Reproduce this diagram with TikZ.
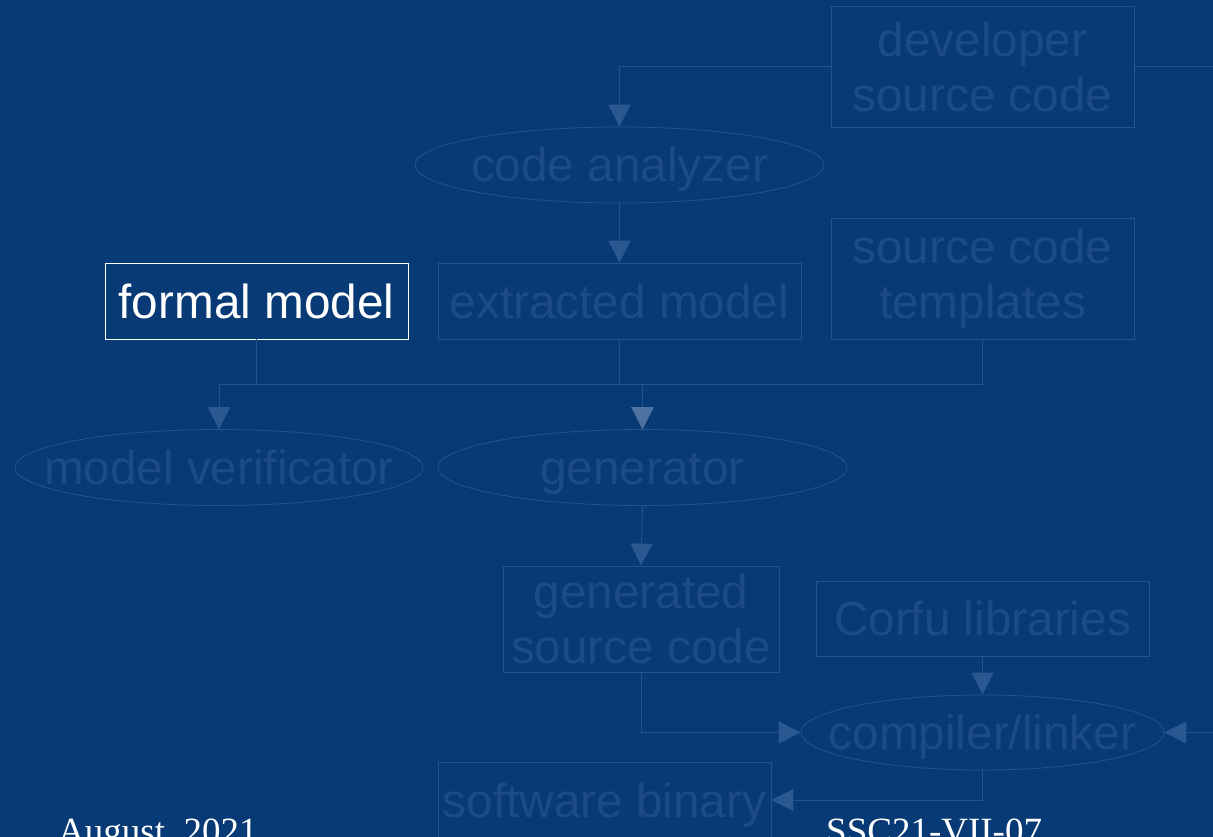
\documentclass[tikz,border=0pt]{standalone}
\usepackage{fontspec}
\setmainfont{Liberation Sans}
\newfontfamily\footfont{Liberation Serif}
\usetikzlibrary{shapes.geometric,arrows.meta}
\definecolor{bgc}{HTML}{083A75}
\definecolor{fadetxt}{HTML}{1D4C85}
\definecolor{fadeline}{HTML}{22548D}
\definecolor{arrowc}{HTML}{2A5991}
\definecolor{arrowgen}{HTML}{4E73A0}
\begin{document}
\begin{tikzpicture}[x=1pt,y=-1pt,
  every node/.style={font=\fontsize{47.7pt}{55pt}\selectfont, text=fadetxt, inner sep=0pt},
  box/.style={draw=fadeline, line width=0.8pt, rectangle},
  one/.style={text height=34pt, text depth=0pt},
  oval/.style={draw=fadeline, ellipse, line width=0.8pt},
  conn/.style={draw=fadeline, line width=0.9pt},
  arr/.style={conn, -{Triangle[length=22pt,width=22pt,color=arrowc]}},
  arrg/.style={conn, -{Triangle[length=22pt,width=22pt,color=arrowgen]}},
  foot/.style={anchor=base west, font=\footfont\fontsize{37pt}{40pt}\selectfont, text=white}
]
\useasboundingbox (0,0) rectangle (1213,837);
\clip (0,0) rectangle (1213,837);
\fill[bgc] (0,0) rectangle (1213,837);

\node[box, align=center, minimum width=303pt, minimum height=121pt] (dev) at (982.5,66.5) {developer\\source code};
\node[oval, one, minimum width=409pt, minimum height=76pt] (ca) at (619.5,165) {\makebox[0pt]{code analyzer}};
\node[box, one, minimum width=363pt, minimum height=76pt] (ext) at (619.5,301) {extracted model};
\node[box, one, draw=white, text=white, minimum width=303pt, minimum height=76pt] (fm) at (256.5,301) {formal model};
\node[box, align=center, minimum width=303pt, minimum height=121pt] (tpl) at (982.5,278.5) {source code\\templates};
\node[oval, one, minimum width=408pt, minimum height=76pt] (mv) at (219,467.5) {\makebox[0pt]{model verificator}};
\node[oval, one, minimum width=409pt, minimum height=76pt] (gen) at (642.5,467.5) {\makebox[0pt]{generator}};
\node[box, align=center, minimum width=276pt, minimum height=106pt] (gsc) at (641,619) {generated\\source code};
\node[box, one, minimum width=333pt, minimum height=75pt] (corfu) at (982.5,618.5) {Corfu libraries};
\node[oval, one, minimum width=363pt, minimum height=75pt] (cl) at (982.5,732.5) {\makebox[0pt]{compiler/linker}};
\node[box, one, minimum width=333pt, minimum height=76pt] (sb) at (604.5,800) {software binary};

\coordinate (r1) at (1240,66.5);
\coordinate (r2) at (1240,732.5);
\coordinate (jfm) at (256.5,384);
\coordinate (jmv) at (219,384);
\coordinate (jext) at (619.5,384);
\coordinate (jgen) at (642.5,384);
\coordinate (jtpl) at (982.5,384);

\draw[arr] (dev.west) -| (ca.north);
\draw[arr] (dev.east) -- (r1) -- (r2) -- (cl.east);
\draw[arr] (ca.south) -- (ext.north);
\draw[arr] (fm.south) -- (jfm) -- (jmv) -- (mv.north);
\draw[arr] (ext.south) -- (jext) -- (jmv) -- (mv.north);
\draw[arrg] (fm.south) -- (jfm) -- (jgen) -- (gen.north);
\draw[arrg] (ext.south) -- (jext) -- (jgen) -- (gen.north);
\draw[arrg] (tpl.south) -- (jtpl) -- (jgen) -- (gen.north);
\draw[arr] (gen.south) -- (gsc.north);
\draw[arr] (gsc.south) |- (cl.west);
\draw[arr] (corfu.south) -- (cl.north);
\draw[arr] (cl.south) |- (sb.east);

\node[foot] (date) at (58,843.5) {August, 2021};
\node[foot] (code) at (826,843.5) {SSC21-VII-07};
\end{tikzpicture}
\end{document}
